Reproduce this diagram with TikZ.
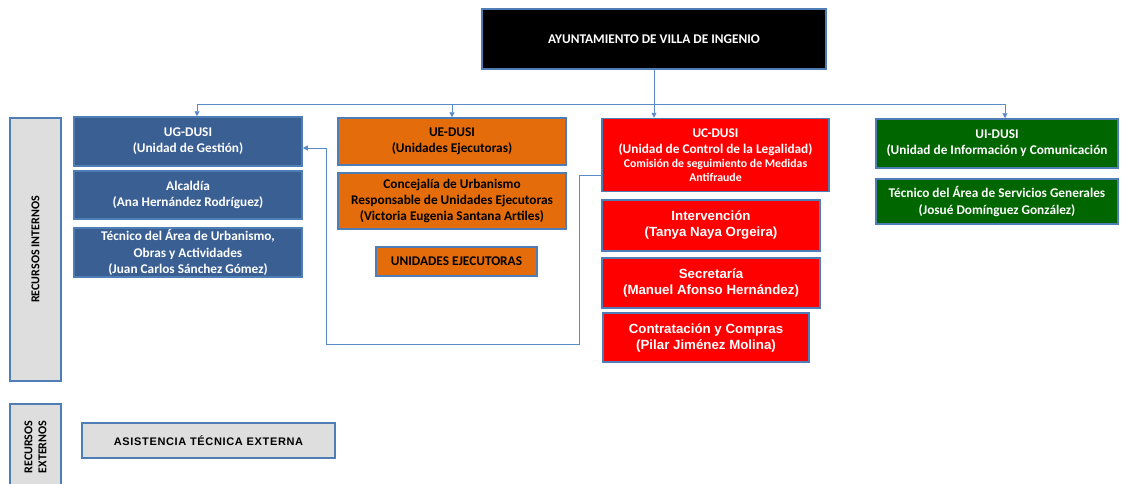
\documentclass[tikz,border=0pt]{standalone}
\usepackage{fontspec}
\setmainfont{Carlito}
\newfontfamily\arialf{Liberation Sans}
\usetikzlibrary{arrows.meta,calc}
\definecolor{ugblue}{HTML}{3A5F93}
\definecolor{ueorange}{HTML}{E46C0A}
\definecolor{ucred}{HTML}{FF0000}
\definecolor{uigreen}{HTML}{006600}
\definecolor{boxgray}{HTML}{DEDEDE}
\definecolor{edgeblue}{HTML}{4F7DB5}
\definecolor{connblue}{HTML}{5B8BC6}
\tikzset{
  box/.style={draw=edgeblue, line width=1.5pt, inner sep=1pt, align=center, font=\fontsize{13.3}{16.2}\selectfont\bfseries},
  bluebox/.style={box, fill=ugblue, text=white},
  orangebox/.style={box, fill=ueorange, text=black},
  redbox/.style={box, fill=ucred, text=white},
  redarial/.style={redbox, font=\arialf\fontsize{13.3}{16}\selectfont\bfseries},
  greenbox/.style={box, fill=uigreen, text=white},
  graybox/.style={box, fill=boxgray, text=black},
  blackbox/.style={box, fill=black, text=white},
  conn/.style={draw=connblue, line width=0.9pt},
  arr/.style={conn, -{Triangle[width=5pt,length=5pt]}}
}
\begin{document}
\begin{tikzpicture}[x=1pt,y=-1pt]
\useasboundingbox (0,0) rectangle (1121,483);
% boxes
\node[blackbox, minimum width=344, minimum height=60] (top) at (654,39) {AYUNTAMIENTO DE VILLA DE INGENIO};

\node[bluebox, minimum width=228, minimum height=49] (ug) at (188,141.5) {UG-DUSI\\(Unidad de Gestión)};
\node[bluebox, minimum width=228, minimum height=48] (alc) at (188,195) {Alcaldía\\(Ana Hernández Rodríguez)};
\node[bluebox, minimum width=228, minimum height=49] (tec) at (188,252.5) {Técnico del Área de Urbanismo,\\Obras y Actividades\\(Juan Carlos Sánchez Gómez)};

\node[orangebox, minimum width=228, minimum height=47] (ue) at (452,141.5) {UE-DUSI\\(Unidades Ejecutoras)};
\node[orangebox, minimum width=228, minimum height=56] (conc) at (452,201) {Concejalía de Urbanismo\\Responsable de Unidades Ejecutoras\\(Victoria Eugenia Santana Artiles)};
\node[orangebox, minimum width=161, minimum height=29] (unej) at (456.5,261.5) {UNIDADES EJECUTORAS};

\node[redbox, minimum width=227, minimum height=73] (uc) at (715.5,155) {UC-DUSI\\(Unidad de Control de la Legalidad)\\[-2pt]{\fontsize{11.8}{14}\selectfont Comisión de seguimiento de Medidas}\\[-3pt]{\fontsize{11.8}{14}\selectfont Antifraude}};
\node[redarial, minimum width=218, minimum height=51] (int) at (711,225.5) {Intervención\\(Tanya Naya Orgeira)};
\node[redarial, minimum width=218, minimum height=50] (sec) at (711,283) {Secretaría\\(Manuel Afonso Hernández)};
\node[redarial, minimum width=206, minimum height=49] (con) at (706,337.5) {Contratación y Compras\\(Pilar Jiménez Molina)};

\node[greenbox, minimum width=242, minimum height=49] (ui) at (997,143.5) {UI-DUSI\\(Unidad de Información y Comunicación};
\node[greenbox, minimum width=242, minimum height=45] (tsg) at (997,201.5) {Técnico del Área de Servicios Generales\\(Josué Domínguez González)};

\node[graybox, rotate=90, minimum width=263, minimum height=51, font=\fontsize{12}{14}\selectfont\bfseries] (ri) at (35.5,249.5) {RECURSOS INTERNOS};
\node[graybox, rotate=90, minimum width=86, minimum height=51, font=\fontsize{12}{14}\selectfont\bfseries] (re) at (35.5,447) {RECURSOS\\EXTERNOS};
\node[graybox, minimum width=253, minimum height=35, font=\arialf\fontsize{11}{12}\selectfont\bfseries\addfontfeature{LetterSpace=6}] (at) at (208.5,440.5) {ASISTENCIA TÉCNICA EXTERNA};

% connectors
\coordinate (bus) at (654,104);
\coordinate (bl) at (197,104);
\coordinate (br) at (1005,104);
\draw[arr] (top.south) -- (top.south |- uc.north);
\draw[conn] (bl) -- (br);
\draw[arr] (bl) -- (bl |- ug.north);
\draw[arr] (bus -| ue.north) -- (ue.north);
\draw[arr] (br) -- (br |- ui.north);

\coordinate (f0) at (602,175);
\coordinate (f1) at (579,344);
\coordinate (f2) at (326,148);
\draw[arr] (f0) -| (f1) -| (f2) -- (f2 -| ug.east);
\end{tikzpicture}
\end{document}
